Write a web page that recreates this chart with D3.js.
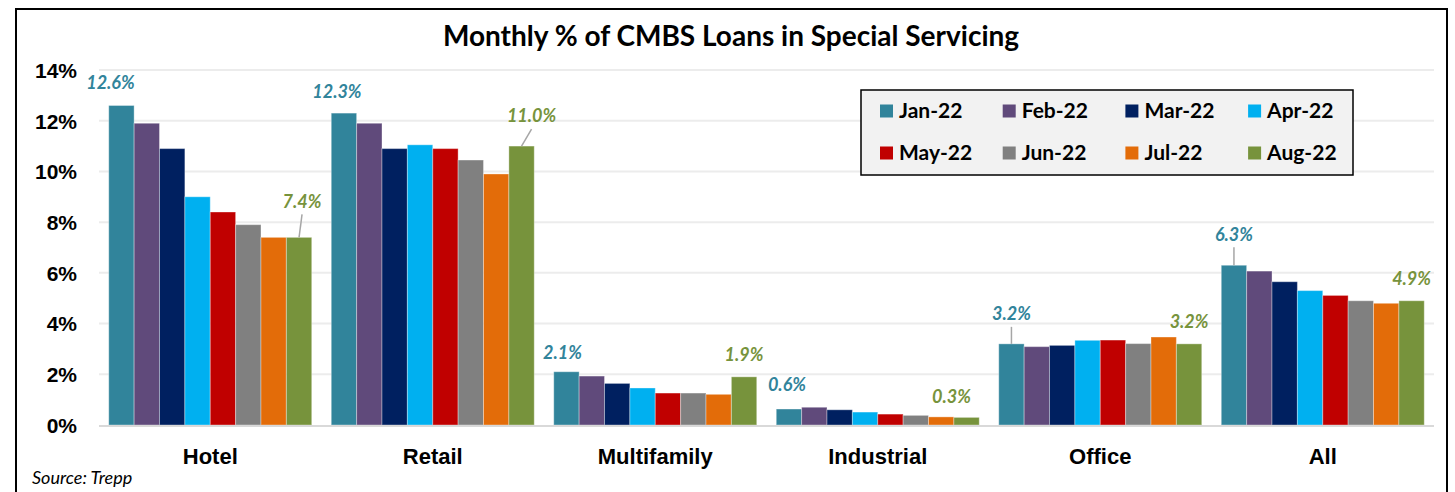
<!DOCTYPE html>
<html lang="en">
<head>
  <meta charset="UTF-8">
  <title>Monthly % of CMBS Loans in Special Servicing</title>
  <style>
    body { margin: 0; background: #fff; }
    svg { display: block; font-family: Lato, "Open Sans", sans-serif; }
    .grid line { stroke: #ececec; stroke-width: 2px; }
    .tick-label { font-weight: 700; font-size: 21px; fill: #000; }
    .cat-label { font-weight: 700; font-size: 22px; fill: #000; }
    .legend-label { font-weight: 700; font-size: 21px; fill: #000; }
    .value-label { font-weight: 700; font-style: italic; font-size: 18px; }
  </style>
</head>
<body>
  <svg id="chart" width="1455" height="492"></svg>

  <script src="https://d3js.org/d3.v7.min.js"></script>
  <script>
    // Data
    const categories = ['Hotel', 'Retail', 'Multifamily', 'Industrial', 'Office', 'All'];
    const months = ['Jan-22', 'Feb-22', 'Mar-22', 'Apr-22', 'May-22', 'Jun-22', 'Jul-22', 'Aug-22'];
    const hotel       = [12.6, 11.9, 10.9, 9.0, 8.4, 7.9, 7.4, 7.4];
    const retail      = [12.3, 11.9, 10.9, 11.05, 10.9, 10.45, 9.9, 11.0];
    const multifamily = [2.1, 1.93, 1.64, 1.46, 1.26, 1.26, 1.21, 1.9];
    const industrial  = [0.63, 0.7, 0.6, 0.51, 0.43, 0.38, 0.32, 0.3];
    const office      = [3.2, 3.09, 3.14, 3.34, 3.35, 3.21, 3.47, 3.2];
    const all         = [6.3, 6.07, 5.65, 5.3, 5.11, 4.9, 4.8, 4.9];
    const yTicks = [0, 2, 4, 6, 8, 10, 12, 14];

    const colors = ['#31849b', '#604a7b', '#002060', '#00b0f0', '#c00000', '#808080', '#e36c09', '#77933c'];

    // label placement (dx, dy from bar top, leader line?) for Jan and Aug bars
    const janLabelPos = [[-11, -23, false], [-7, -21, false], [-4, -19, false], [-2, -24, false], [0, -30, true], [0, -31, true]];
    const augLabelPos = [[3, -36, true], [10, -30, true], [0, -22, false], [-15, -21, false], [0, -22, false], [0, -22, false]];

    const seriesByCat = [hotel, retail, multifamily, industrial, office, all];
    const rows = categories.map((c, i) => ({ cat: c, values: seriesByCat[i] }));

    const svg = d3.select('#chart');
    const H = 492;

    // outer frame
    svg.append('rect')
      .attr('x', 16).attr('y', 9)
      .attr('width', 1431).attr('height', H + 20)
      .attr('fill', '#fff').attr('stroke', '#000').attr('stroke-width', 2);

    svg.append('text')
      .attr('x', 731).attr('y', 46)
      .attr('text-anchor', 'middle')
      .style('font-weight', 700).style('font-size', '28px')
      .text('Monthly % of CMBS Loans in Special Servicing');

    const x0 = d3.scaleBand().domain(categories).range([99, 1434]).paddingInner(0.0877).paddingOuter(0.0438);
    const x1 = d3.scaleBand().domain(months).range([0, x0.bandwidth()]);
    const y = d3.scaleLinear().domain([0, 14]).range([425, 70]);

    // gridlines
    svg.append('g').attr('class', 'grid')
      .selectAll('line')
      .data(yTicks.filter(d => d > 0))
      .enter().append('line')
      .attr('x1', 99).attr('x2', 1434)
      .attr('y1', d => y(d)).attr('y2', d => y(d));

    // y axis labels
    const yAxis = d3.axisLeft(y).tickValues(yTicks).tickFormat(d => d + '%').tickSize(0).tickPadding(0);
    const yg = svg.append('g').attr('transform', 'translate(77,0)').call(yAxis);
    yg.select('.domain').remove();
    yg.selectAll('text').attr('class', 'tick-label').attr('dy', '0.35em').attr('font-family', null).attr('font-size', null);

    // bars
    const groups = svg.append('g').selectAll('g')
      .data(rows)
      .enter().append('g')
      .attr('transform', d => `translate(${x0(d.cat)},0)`);

    groups.selectAll('rect')
      .data(d => d.values.map((v, i) => ({ m: months[i], v: v, i: i })))
      .enter().append('rect')
      .attr('x', d => x1(d.m))
      .attr('y', d => y(d.v))
      .attr('width', x1.bandwidth())
      .attr('height', d => y(0) - y(d.v))
      .attr('fill', d => colors[d.i])
      .attr('stroke', 'rgba(255,255,255,0.35)')
      .attr('stroke-width', 1);

    // baseline
    svg.append('line')
      .attr('x1', 99).attr('x2', 1434)
      .attr('y1', y(0) + 1).attr('y2', y(0) + 1)
      .attr('stroke', '#d9d9d9').attr('stroke-width', 2);

    // category labels
    const xAxis = d3.axisBottom(x0).tickSize(0).tickPadding(0);
    const xg = svg.append('g').attr('transform', 'translate(0,449)').call(xAxis);
    xg.select('.domain').remove();
    xg.selectAll('text').attr('class', 'cat-label').attr('dy', '0.7em').attr('font-family', null).attr('font-size', null);

    // value labels for first and last month
    function addLabels(mi, pos, color) {
      rows.forEach((r, ci) => {
        const v = r.values[mi];
        const bx = x0(r.cat) + x1(months[mi]) + x1.bandwidth() / 2;
        const by = y(v);
        const [dx, dy, leader] = pos[ci];
        const lx = bx + dx, ly = by + dy;
        if (leader) {
          svg.append('line')
            .attr('x1', lx).attr('y1', ly + 13)
            .attr('x2', bx).attr('y2', by)
            .attr('stroke', '#a6a6a6').attr('stroke-width', 1.5);
        }
        svg.append('text')
          .attr('class', 'value-label')
          .attr('x', lx).attr('y', ly)
          .attr('dy', '0.35em')
          .attr('text-anchor', 'middle')
          .attr('fill', color)
          .text(v.toFixed(1) + '%');
      });
    }
    addLabels(0, janLabelPos, colors[0]);
    addLabels(7, augLabelPos, colors[7]);

    // legend
    const legend = svg.append('g');
    legend.append('rect')
      .attr('x', 861).attr('y', 90).attr('width', 492).attr('height', 85)
      .attr('fill', '#f2f2f2').attr('stroke', '#000').attr('stroke-width', 1.5);
    const item = legend.selectAll('g.item')
      .data(months)
      .enter().append('g')
      .attr('class', 'item')
      .attr('transform', (d, i) => `translate(${880 + (i % 4) * 122.7},${i < 4 ? 111 : 153})`);
    item.append('rect')
      .attr('x', 0).attr('y', -6.5).attr('width', 13).attr('height', 13)
      .attr('fill', (d, i) => colors[i]);
    item.append('text')
      .attr('class', 'legend-label')
      .attr('x', 19).attr('dy', '0.35em')
      .text(d => d);

    svg.append('text')
      .attr('x', 32).attr('y', 484)
      .style('font-style', 'italic').style('font-size', '18px')
      .text('Source: Trepp');
  </script>
</body>
</html>
